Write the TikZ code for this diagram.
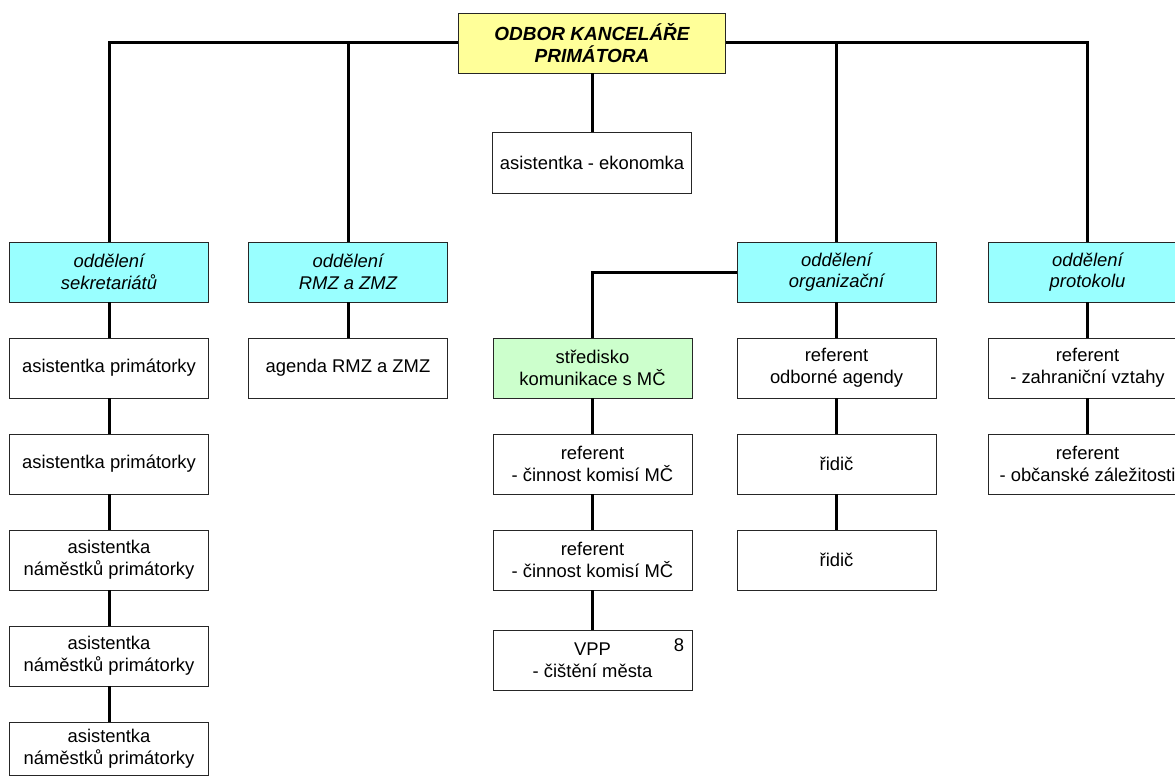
\documentclass[tikz,border=0pt]{standalone}
\usepackage{fontspec}
\setmainfont{Liberation Sans}
\usetikzlibrary{positioning}

\definecolor{headyellow}{HTML}{FFFF99}
\definecolor{deptcyan}{HTML}{99FFFF}
\definecolor{centgreen}{HTML}{CCFFCC}

\begin{document}
\begin{tikzpicture}[x=1pt, y=-1pt,
    unit/.style={draw=black!85, line width=0.9pt, fill=white, rectangle, align=center,
        minimum width=199pt, minimum height=60pt, inner sep=0pt,
        font=\fontsize{18.4}{21.6}\selectfont},
    head/.style={unit, fill=headyellow, minimum width=267pt,
        font=\fontsize{19}{22.5}\selectfont\bfseries\itshape},
    dept/.style={unit, fill=deptcyan, font=\fontsize{18.4}{21.6}\selectfont\itshape},
    link/.style={line width=3pt}]
    \useasboundingbox (0,0) rectangle (1175,776);
    \clip (0,0) rectangle (1175,776);

    % Head of the office
    \node[head] (top) at (592,43) {ODBOR KANCELÁŘE\\PRIMÁTORA};
    \node[unit, minimum height=61pt] (eko) at (592,162.5) {asistentka - ekonomka};

    % Departments
    \node[dept] (sek) at (109,272) {oddělení\\sekretariátů};
    \node[dept] (rmz) at (348,272) {oddělení\\RMZ a ZMZ};
    \node[dept] (org) at (836.5,272) {oddělení\\organizační};
    \node[dept] (prot) at (1087.5,272) {oddělení\\protokolu};

    % Secretariats
    \node[unit] (sek1) at (109,368) {asistentka primátorky};
    \node[unit] (sek2) at (109,464) {asistentka primátorky};
    \node[unit] (sek3) at (109,560) {asistentka\\náměstků primátorky};
    \node[unit] (sek4) at (109,656) {asistentka\\náměstků primátorky};
    \node[unit, minimum height=53pt] (sek5) at (109,748.5) {asistentka\\náměstků primátorky};

    % RMZ a ZMZ
    \node[unit] (rmz1) at (348,368) {agenda RMZ a ZMZ};

    % Centre for city districts
    \node[unit, fill=centgreen] (str) at (592.5,368) {středisko\\komunikace s MČ};
    \node[unit] (str1) at (592.5,464) {referent\\- činnost komisí MČ};
    \node[unit] (str2) at (592.5,560) {referent\\- činnost komisí MČ};
    \node[unit] (str3) at (592.5,660) {VPP\\- čištění města};
    \node[font=\fontsize{18.4}{21.6}\selectfont] (num8) at (679,645) {8};

    % Organisation
    \node[unit] (org1) at (836.5,368) {referent\\odborné agendy};
    \node[unit] (org2) at (836.5,464) {řidič};
    \node[unit] (org3) at (836.5,560) {řidič};

    % Protocol
    \node[unit] (prot1) at (1087.5,368) {referent\\- zahraniční vztahy};
    \node[unit] (prot2) at (1087.5,464) {referent\\- občanské záležitosti};

    % Connectors
    \draw[link] (sek.north) |- (top.west);
    \draw[link] (top.east) -| (prot.north);
    \draw[link] (rmz.north) -- (rmz.north |- top.west);
    \draw[link] (org.north) -- (org.north |- top.east);
    \draw[link] (top.south) -- (eko.north);
    \draw[link] (org.west) -| (str.north);
    \foreach \a/\b in {sek/sek1, sek1/sek2, sek2/sek3, sek3/sek4, sek4/sek5,
        rmz/rmz1, str/str1, str1/str2, str2/str3,
        org/org1, org1/org2, org2/org3, prot/prot1, prot1/prot2}
        \draw[link] (\a.south) -- (\b.north);
\end{tikzpicture}
\end{document}
